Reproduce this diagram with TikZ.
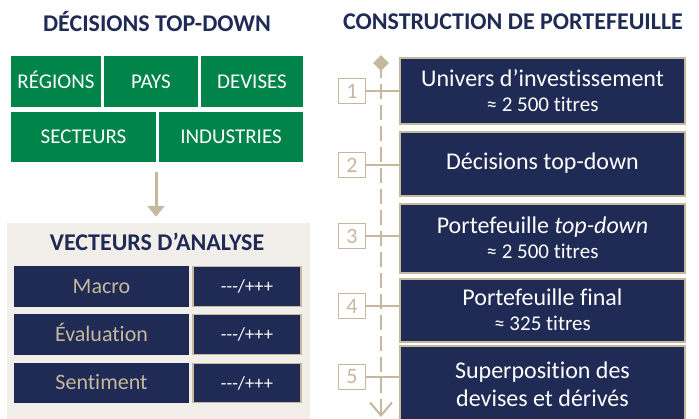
\documentclass[tikz,border=0pt]{standalone}
\usepackage{fontspec}
\setmainfont{Carlito}[Ligatures={TeXOff,NoCommon}]
\usetikzlibrary{arrows.meta,shapes.geometric,calc}
\definecolor{navy}{HTML}{1F2A55}
\definecolor{tan}{HTML}{C6B89C}
\definecolor{grn}{HTML}{00844A}
\definecolor{beige}{HTML}{F2EFEA}
\tikzset{
  ttl/.style={text=navy,font=\fontsize{24}{28}\selectfont\bfseries,inner sep=0},
  gbox/.style={fill=grn,text=white,inner sep=0,text height=13.3pt,text depth=0pt,font=\fontsize{21}{24}\selectfont},
  lbox/.style={fill=navy,text=tan,inner sep=0,minimum width=175pt,text height=13.9pt,text depth=0pt,font=\fontsize{22}{24}\selectfont},
  vbox/.style={fill=navy,draw=tan,line width=1.5pt,text=white,inner sep=0,minimum width=108pt,font=\fontsize{18.5}{20}\selectfont},
  cbox/.style={fill=navy,draw=tan,line width=2pt,text=white,inner sep=0,minimum width=285pt,align=center,font=\fontsize{24}{28}\selectfont},
  nbox/.style={draw=tan,line width=1.2pt,fill=white,text=tan,inner sep=0,minimum width=27pt,minimum height=25pt,font=\fontsize{22}{24}\selectfont},
  conn/.style={draw=tan,line width=1.5pt}
}
\newcommand{\subl}[1]{{\fontsize{21}{24}\selectfont #1}}
\begin{document}
\begin{tikzpicture}[x=1pt,y=-1pt]
\useasboundingbox (0,0) rectangle (699,418);
% left
\node[ttl] (tl) at (157,22) {DÉCISIONS TOP-DOWN};
\node[gbox,minimum width=90pt,minimum height=51pt] (reg) at (56,81.5) {RÉGIONS};
\node[gbox,minimum width=94pt,minimum height=51pt] (pays) at (151,81.5) {PAYS};
\node[gbox,minimum width=102pt,minimum height=51pt] (dev) at (252,81.5) {DEVISES};
\node[gbox,minimum width=145pt,minimum height=50pt] (sec) at (83.5,137) {SECTEURS};
\node[gbox,minimum width=144pt,minimum height=50pt] (ind) at (231,137) {INDUSTRIES};
\node[fill=beige,minimum width=303pt,minimum height=197pt,inner sep=0] (panel) at (158.5,321.5) {};
\coordinate (a1) at (156,172);
\draw[draw=tan,line width=3pt,-{Triangle[length=11pt,width=17pt]}] (a1) -- (a1 |- panel.north) [shorten >=6pt];
\node[ttl] (vt) at (157,242) {VECTEURS D’ANALYSE};
\node[lbox,minimum height=41pt] (l1) at (101.5,286.5) {Macro};
\node[vbox,minimum height=40pt] (v1) at (247,286.5) {---/+++};
\node[lbox,minimum height=41pt] (l2) at (101.5,334.5) {Évaluation};
\node[vbox,minimum height=40pt] (v2) at (247,334.5) {---/+++};
\node[lbox,minimum height=40pt] (l3) at (101.5,383) {Sentiment};
\node[vbox,minimum height=39pt] (v3) at (247,383) {---/+++};
% right
\node[ttl] (tr) at (513,22) {CONSTRUCTION DE PORTEFEUILLE};
\node[cbox,minimum height=66pt] (b1) at (542.5,90.5) {Univers d’investissement\\[-3pt]\subl{≈ 2 500 titres}};
\node[cbox,minimum height=64pt] (b2) at (542.5,163.5) {Décisions top-down};
\node[cbox,minimum height=69pt] (b3) at (542.5,238) {Portefeuille \textit{top-down}\\[-3pt]\subl{≈ 2 500 titres}};
\node[cbox,minimum height=63pt] (b4) at (542.5,310) {Portefeuille final\\[-3pt]\subl{≈ 325 titres}};
\node[cbox,minimum height=76pt] (b5) at (542.5,384) {Superposition des\\devises et dérivés};
% timeline
\node[diamond,fill=tan,inner sep=0,minimum size=16pt] (top) at (381,63) {};
\coordinate (tend) at (381,417);
\draw[draw=tan,line width=2.5pt,dash pattern=on 15pt off 6pt,-{Straight Barb[length=13pt,width=22pt,line width=2pt]}] (top.center) -- (tend);
\foreach \i/\y in {1/91,2/165,3/236,4/306,5/377}{
  \node[nbox] (n\i) at (352,\y) {\i};
  \draw[conn] (n\i.east) -- (n\i.east -| b\i.west);
}
\end{tikzpicture}
\end{document}
